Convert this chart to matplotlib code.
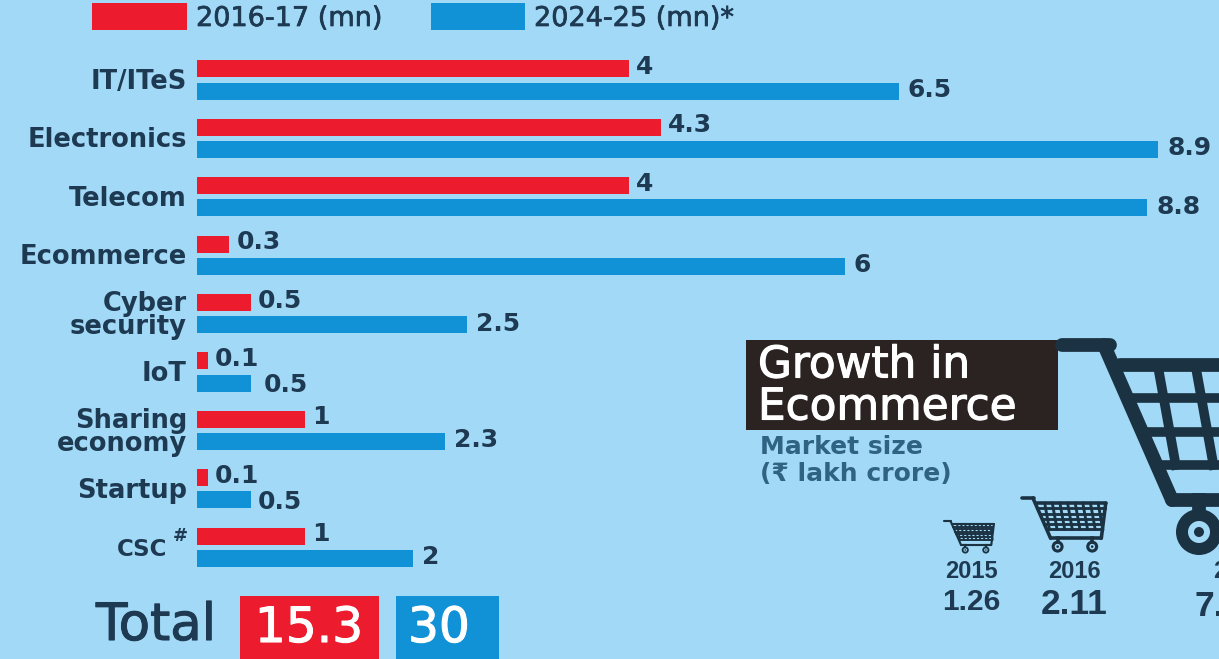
import matplotlib
matplotlib.use('Agg')
import numpy as np
import matplotlib.pyplot as plt
from matplotlib.patches import Rectangle, Circle
import matplotlib.patheffects as pe

# data
categories = ['IT/ITeS', 'Electronics', 'Telecom', 'Ecommerce', 'Cyber\nsecurity',
              'IoT', 'Sharing\neconomy', 'Startup', 'CSC']
jobs_2016 = [4, 4.3, 4, 0.3, 0.5, 0.1, 1, 0.1, 1]
jobs_2024 = [6.5, 8.9, 8.8, 6, 2.5, 0.5, 2.3, 0.5, 2]
labels_2016 = ['4', '4.3', '4', '0.3', '0.5', '0.1', '1', '0.1', '1']
labels_2024 = ['6.5', '8.9', '8.8', '6', '2.5', '0.5', '2.3', '0.5', '2']
legend_labels = ['2016-17 (mn)', '2024-25 (mn)*']
totals = ['15.3', '30']
cart_years = ['2015', '2016']
cart_sizes = ['1.26', '2.11']

BG = '#A2D9F6'
RED = '#EC1C2E'
BLUE = '#1191D6'
DARK = '#1E3A52'
CART = '#1B3243'
NARROW = ['Liberation Sans', 'DejaVu Sans']

plt.rcParams['font.family'] = ['DejaVu Sans']

fig = plt.figure(figsize=(12.19, 6.59), dpi=100, facecolor=BG)

# bars: 108 px per million, rows 58.4 px apart, first row centred at y=80
ax = fig.add_axes([0, 0, 1, 1])
ax.set_xlim(-197 / 108, (1219 - 197) / 108)
ax.set_ylim((659 - 80) / 58.4, -80 / 58.4)
ax.axis('off')

y = np.arange(len(categories))
h = 0.29
off = 0.19
ax.barh(y - off, jobs_2016, height=h, color=RED)
ax.barh(y + off, jobs_2024, height=h, color=BLUE)

# value labels, nudged like the original where they dodge each other
nudge_2024 = {5: (4, 3), 7: (-2, 3)}
nudge_name = {8: 20}
for i in range(len(categories)):
    ax.annotate(labels_2016[i], (jobs_2016[i], y[i] - off), xytext=(7, 2), textcoords='offset pixels',
                va='center', ha='left', fontsize=18, fontweight='bold', color=DARK)
    dx, dy = nudge_2024.get(i, (0, 0))
    ax.annotate(labels_2024[i], (jobs_2024[i], y[i] + off), xytext=(9 + dx, 1 - dy), textcoords='offset pixels',
                va='center', ha='left', fontsize=18, fontweight='bold', color=DARK)
    ax.annotate(categories[i], (0, y[i]), xytext=(-10 - nudge_name.get(i, 0), -2), textcoords='offset pixels',
                va='center', ha='right', fontsize=16.5 if i == 8 else 18.5, fontweight='bold', color=DARK,
                linespacing=0.82)

# everything else is placed in pixel coordinates
ov = fig.add_axes([0, 0, 1, 1])
ov.set_xlim(0, 1219)
ov.set_ylim(659, 0)
ov.axis('off')
ov.patch.set_alpha(0)


def heavy(color, w=0.8):
    # DejaVu has no semibold, thicken the regular weight a bit
    return [pe.withStroke(linewidth=w, foreground=color)]


ov.text(188, 536, '#', fontsize=13, fontweight='bold', color=DARK, ha='right', va='center')

# legend
ov.add_patch(Rectangle((92, 3), 95, 27, color=RED, lw=0))
ov.add_patch(Rectangle((431, 3), 94, 27, color=BLUE, lw=0))
ov.text(196, 19, legend_labels[0], fontsize=19.5, color=DARK, va='center', path_effects=heavy(DARK, 0.5))
ov.text(534, 19, legend_labels[1], fontsize=19.5, color=DARK, va='center', path_effects=heavy(DARK, 0.5))

# totals
ov.text(96, 626, 'Total', fontsize=37, color=DARK, va='center', path_effects=heavy(DARK))
ov.add_patch(Rectangle((240, 596), 139, 63, color=RED, lw=0))
ov.add_patch(Rectangle((396, 596), 103, 63, color=BLUE, lw=0))
ov.text(309, 628, totals[0], fontsize=35, color='white', va='center', ha='center', path_effects=heavy('white'))
ov.text(439, 628, totals[1], fontsize=35, color='white', va='center', ha='center', path_effects=heavy('white'))

# title block
ov.add_patch(Rectangle((746, 340), 312, 90, color='#2A2322', lw=0))
ov.text(758, 365, 'Growth in', fontsize=31.5, color='white', va='center', path_effects=heavy('white'))
ov.text(758, 407, 'Ecommerce', fontsize=31.5, color='white', va='center', path_effects=heavy('white'))
ov.text(760, 447, 'Market size', fontsize=18, color='#2F6283', va='center', fontweight='bold')
ov.text(760, 474, '(\u20b9 lakh crore)', fontsize=18, color='#2F6283', va='center', fontweight='bold')


def draw_cart(x0, y0, s, rows, cols, grid_w=0.7):
    lw = max(11 * s * 0.9, 1.3)
    seg = [((0, 0), (48, 0)), ((42, 0), (110, 155)), ((110, 155), (305, 155)),
           ((58, 20), (322, 20)), ((322, 20), (305, 155))]
    for (a, b), (c, d) in seg:
        ov.plot([x0 + a * s, x0 + c * s], [y0 + b * s, y0 + d * s], color=CART, lw=lw, solid_capstyle='round')
    for t in np.linspace(0, 1, rows + 2)[1:]:
        yy = 20 + 100 * t
        xl = 42 + (yy / 155) * 68
        xr = 322 - 17 * t
        ov.plot([x0 + xl * s, x0 + xr * s], [y0 + yy * s, y0 + yy * s], color=CART, lw=lw * grid_w)
    for t in np.linspace(0, 1, cols + 2)[1:-1]:
        xa = 58 + 264 * t
        ov.plot([x0 + xa * s, x0 + (xa + 18) * s], [y0 + 20 * s, y0 + 120 * s], color=CART, lw=lw * grid_w)
    for wx in (137, 270):
        ov.plot([x0 + wx * s] * 2, [y0 + 155 * s, y0 + 168 * s], color=CART, lw=lw)
        ov.add_patch(Circle((x0 + wx * s, y0 + 187 * s), 23 * s, color=CART, lw=0))
        ov.add_patch(Circle((x0 + wx * s, y0 + 187 * s), 11 * s, color=BG, lw=0))
        ov.add_patch(Circle((x0 + wx * s, y0 + 187 * s), 5 * s, color=CART, lw=0))


draw_cart(1062, 345, 1.0, 2, 6)
draw_cart(1022, 498, 0.26, 4, 8, 0.8)
draw_cart(944, 521, 0.155, 5, 9, 0.9)

for xc, yr, sz, fs_y, fs_v, yv in [(971, cart_years[0], cart_sizes[0], 17, 21.5, 602),
                                   (1074, cart_years[1], cart_sizes[1], 17, 25.5, 605)]:
    ov.text(xc, 571, yr, fontsize=fs_y, fontfamily=NARROW, fontweight='bold', color=DARK, ha='center', va='center')
    ov.text(xc, yv, sz, fontsize=fs_v, fontfamily=NARROW, fontweight='bold', color=DARK, ha='center', va='center')

# third cart's caption is cut off at the edge of the picture
ov.text(1213, 571, '2', fontsize=17, fontfamily=NARROW, fontweight='bold', color=DARK, va='center')
ov.text(1195, 607, '7.', fontsize=25.5, fontfamily=NARROW, fontweight='bold', color=DARK, va='center')

fig.savefig('out.png', dpi=100, facecolor=BG)
